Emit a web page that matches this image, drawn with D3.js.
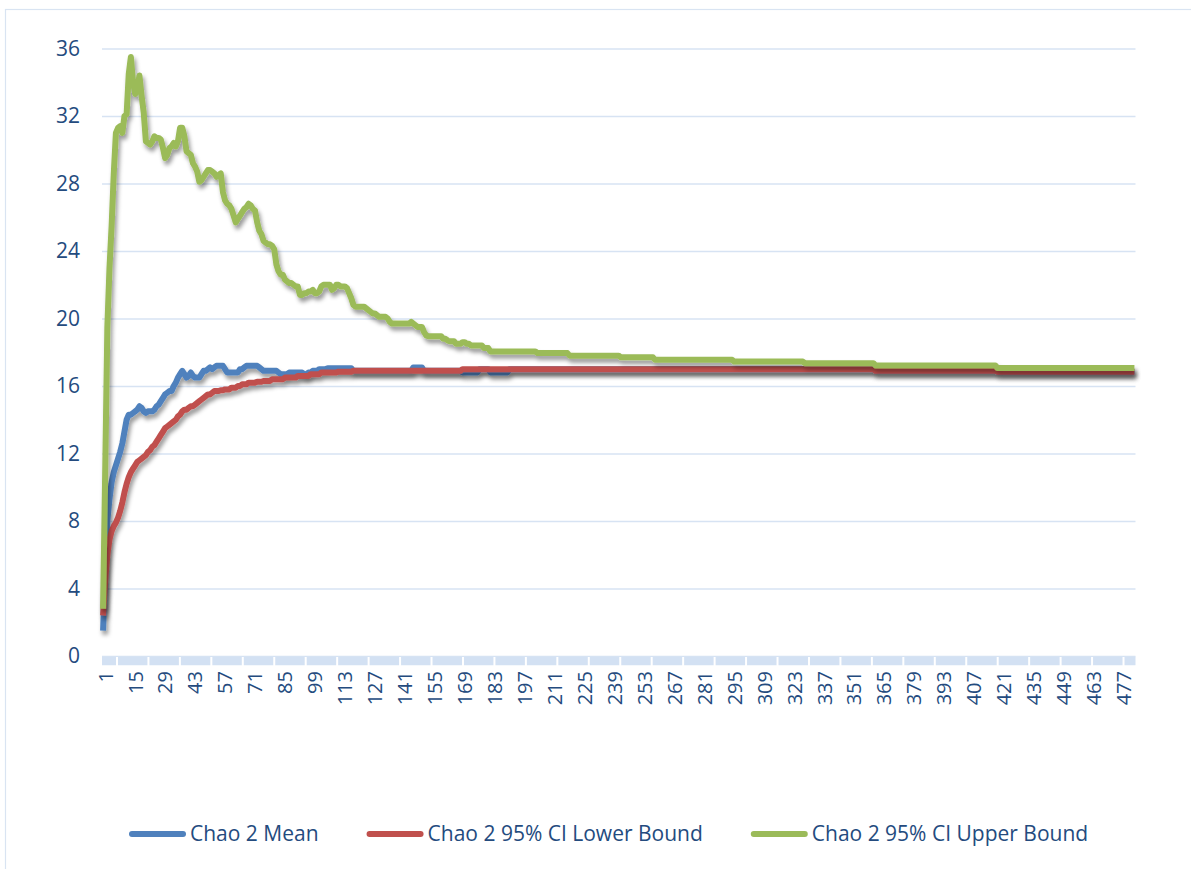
<!DOCTYPE html>
<html>
<head>
<meta charset="utf-8">
<script src="https://cdn.jsdelivr.net/npm/d3@7"></script>
<style>
  html, body { margin: 0; padding: 0; background: #fff; }
  svg { display: block; font-family: "Open Sans", sans-serif; }
</style>
</head>
<body>
<svg id="chart" width="1191" height="869"></svg>
<script>
// Chao 2 estimates per sample (1..483). Each entry: [sample where value starts, value],
// value is held until the next entry
const sampleCount = 483;

const chaoMean = [
  [1,1.5],[2,5.0],[3,8.0],[4,9.3],[5,10.3],[6,10.9],[7,11.3],[8,11.7],[9,12.1],[10,12.6],
  [11,13.3],[12,14.0],[13,14.3],[15,14.4],[16,14.5],[17,14.6],[18,14.8],[19,14.7],[20,14.5],
  [21,14.4],[22,14.5],[25,14.6],[26,14.8],[27,14.9],[28,15.1],[29,15.3],[30,15.5],[31,15.6],
  [32,15.7],[34,16.0],[35,16.2],[36,16.5],[37,16.7],[38,16.9],[39,16.7],[40,16.5],[41,16.6],
  [42,16.8],[43,16.6],[44,16.5],[47,16.7],[48,16.9],[50,17.0],[51,17.1],[52,17.0],[53,17.1],
  [54,17.2],[58,17.0],[59,16.8],[65,17.0],[67,17.1],[68,17.2],[74,17.1],[75,17.0],[76,16.9],
  [83,16.8],[84,16.7],[88,16.8],[95,16.7],[97,16.8],[99,16.9],[102,17.0],[106,17.05],
  [118,16.9],[146,17.1],[151,16.9],[169,16.8],[177,17.0],[182,16.8],[191,17.0],[362,16.9],
  [419,16.85]
];

const chaoLower = [
  [1,2.4],[2,4.5],[3,6.0],[4,6.9],[5,7.4],[6,7.7],[7,7.9],[8,8.2],[9,8.6],[10,9.1],
  [11,9.7],[12,10.2],[13,10.6],[14,10.9],[15,11.1],[16,11.3],[17,11.5],[18,11.6],[19,11.7],
  [20,11.8],[21,11.9],[22,12.1],[23,12.2],[24,12.4],[25,12.5],[26,12.7],[27,12.9],[28,13.1],
  [29,13.3],[30,13.5],[31,13.6],[32,13.7],[33,13.8],[34,13.9],[35,14.0],[36,14.2],[37,14.3],
  [38,14.5],[39,14.6],[41,14.7],[42,14.8],[44,14.9],[45,15.0],[46,15.1],[47,15.2],[48,15.3],
  [49,15.4],[50,15.5],[52,15.6],[53,15.7],[56,15.75],[58,15.8],[61,15.9],[64,16.0],[66,16.1],
  [69,16.2],[73,16.25],[76,16.3],[80,16.4],[86,16.5],[92,16.6],[98,16.7],[103,16.8],
  [111,16.85],[118,16.9],[169,17.0],[362,16.9],[419,16.85]
];

const chaoUpper = [
  [1,2.8],[2,11.0],[3,19.5],[4,23.0],[5,25.5],[6,28.6],[7,31.0],[8,31.3],[9,31.4],[10,31.0],
  [11,32.0],[12,32.1],[13,34.5],[14,35.5],[15,34.0],[16,33.3],[17,33.6],[18,34.4],[19,33.2],
  [20,32.2],[21,30.5],[22,30.4],[23,30.3],[24,30.5],[25,30.8],[26,30.7],[28,30.6],[29,30.1],
  [30,29.5],[31,29.7],[32,30.1],[33,30.2],[34,30.4],[35,30.2],[36,30.5],[37,31.3],[39,30.8],
  [40,29.9],[41,29.8],[42,29.7],[43,29.2],[44,29.0],[45,28.7],[46,28.1],[47,28.2],[48,28.4],
  [49,28.6],[50,28.8],[52,28.7],[53,28.6],[54,28.4],[55,28.5],[56,28.6],[57,27.5],[58,27.0],
  [59,26.8],[60,26.7],[61,26.5],[62,26.1],[63,25.7],[64,25.9],[65,26.1],[66,26.3],[67,26.5],
  [68,26.6],[69,26.8],[70,26.7],[71,26.5],[72,26.4],[73,25.7],[74,25.2],[75,25.0],[76,24.6],
  [77,24.5],[78,24.4],[80,24.3],[81,24.1],[82,23.2],[83,22.8],[84,22.6],[86,22.3],[87,22.2],
  [88,22.1],[90,22.0],[91,21.9],[93,21.4],[95,21.5],[97,21.6],[99,21.7],[100,21.5],[102,21.6],
  [103,21.9],[104,22.0],[108,21.7],[109,21.8],[110,22.0],[112,21.9],[115,21.8],[116,21.5],
  [117,21.2],[118,20.8],[119,20.7],[124,20.6],[125,20.5],[126,20.4],[127,20.3],[129,20.2],
  [130,20.1],[134,20.0],[135,19.8],[136,19.7],[145,19.8],[146,19.7],[147,19.6],[148,19.5],
  [151,19.2],[152,19.0],[153,18.95],[160,18.8],[162,18.7],[163,18.65],[166,18.5],[169,18.6],
  [171,18.5],[173,18.4],[179,18.25],[182,18.05],[204,17.95],[219,17.8],[243,17.7],[259,17.55],
  [296,17.45],[329,17.35],[362,17.22],[419,17.07]
];

const yTicks = [0, 4, 8, 12, 16, 20, 24, 28, 32, 36];
const xTickLabels = [1,15,29,43,57,71,85,99,113,127,141,155,169,183,197,211,225,239,253,267,
  281,295,309,323,337,351,365,379,393,407,421,435,449,463,477];

const seriesNames = ["Chao 2 Mean", "Chao 2 95% CI Lower Bound", "Chao 2 95% CI Upper Bound"];
const seriesColors = ["#4f81bd", "#c0504d", "#9bbb59"];

// turn the held-value lists into one value per sample
function expand(steps) {
  const out = [];
  let k = 0;
  for (let i = 1; i <= sampleCount; i++) {
    while (k + 1 < steps.length && steps[k + 1][0] <= i) k++;
    out.push({ sample: i, value: steps[k][1] });
  }
  return out;
}

const series = [chaoMean, chaoLower, chaoUpper].map((s, i) => ({
  name: seriesNames[i], color: seriesColors[i], values: expand(s)
}));

const svg = d3.select("#chart");
const textColor = "#244b7e";
const gridColor = "#d7e3f3";

const plotLeft = 102, plotRight = 1135.5, plotTop = 48.5, plotBottom = 656;

const x = d3.scaleBand()
  .domain(d3.range(1, sampleCount + 1))
  .range([plotLeft, plotRight])
  .paddingInner(0).paddingOuter(0);
const cx = (i) => x(i) + x.bandwidth() / 2;

const y = d3.scaleLinear().domain([0, 36]).range([plotBottom, plotTop]);

// chart area border
svg.append("rect")
  .attr("x", 5.5).attr("y", 9.5)
  .attr("width", 1300).attr("height", 1000)
  .attr("fill", "none").attr("stroke", "#d9e4f2").attr("stroke-width", 1.2);

// shadow filter for the lines
const defs = svg.append("defs");
defs.append("filter").attr("id", "shadow")
  .attr("x", "-5%").attr("y", "-5%").attr("width", "110%").attr("height", "115%")
  .append("feDropShadow")
  .attr("dx", 2).attr("dy", 4).attr("stdDeviation", 2.2)
  .attr("flood-color", "#000").attr("flood-opacity", 0.4);

// gridlines + y labels
const yAxis = svg.append("g")
  .attr("transform", `translate(${plotLeft},0)`)
  .call(d3.axisLeft(y).tickValues(yTicks).tickSize(-(plotRight - plotLeft)).tickPadding(22));
yAxis.select(".domain").remove();
yAxis.selectAll(".tick line").attr("stroke", gridColor).attr("stroke-width", 1.5);
yAxis.selectAll(".tick text")
  .attr("fill", textColor).attr("font-size", 21).attr("font-family", "Open Sans");

// x axis band
svg.append("line")
  .attr("x1", plotLeft).attr("x2", plotRight)
  .attr("y1", plotBottom + 5).attr("y2", plotBottom + 5)
  .attr("stroke", "#d3e1f3").attr("stroke-width", 8.5);

// white tick marks cutting the band
const tickStep = 14.7;
const tickMarks = d3.range(7, sampleCount, tickStep);
svg.append("g").selectAll("line")
  .data(tickMarks)
  .join("line")
  .attr("x1", (d) => plotLeft + d * x.bandwidth())
  .attr("x2", (d) => plotLeft + d * x.bandwidth())
  .attr("y1", plotBottom + 1).attr("y2", plotBottom + 10)
  .attr("stroke", "#fff").attr("stroke-width", 2);

// x labels (rotated)
const xAxis = svg.append("g")
  .attr("transform", `translate(0,${plotBottom})`)
  .call(d3.axisBottom(x).tickValues(xTickLabels).tickSize(0));
xAxis.select(".domain").remove();
xAxis.selectAll(".tick text")
  .attr("fill", textColor).attr("font-size", 20).attr("font-family", "Open Sans")
  .attr("transform", "rotate(-90)")
  .attr("text-anchor", "end")
  .attr("dy", "0.35em")
  .attr("x", -15).attr("y", 2.5);

// lines
const line = d3.line()
  .x((d) => cx(d.sample))
  .y((d) => y(d.value));

svg.append("g").selectAll("path")
  .data(series)
  .join("path")
  .attr("fill", "none")
  .attr("stroke", (d) => d.color)
  .attr("stroke-width", 6)
  .attr("stroke-linejoin", "round")
  .attr("filter", "url(#shadow)")
  .attr("d", (d) => line(d.values));

// legend, laid out left to right
const legend = svg.append("g");
let lx = 132;
const ly = 834;
series.forEach((s) => {
  legend.append("line")
    .attr("x1", lx).attr("x2", lx + 51)
    .attr("y1", ly).attr("y2", ly)
    .attr("stroke", s.color).attr("stroke-width", 6).attr("stroke-linecap", "round");
  const t = legend.append("text")
    .attr("x", lx + 58).attr("y", ly)
    .attr("dy", "0.35em")
    .attr("fill", textColor).attr("font-size", 21)
    .text(s.name);
  lx += 58 + t.node().getComputedTextLength() + 51;
});
</script>
</body>
</html>
